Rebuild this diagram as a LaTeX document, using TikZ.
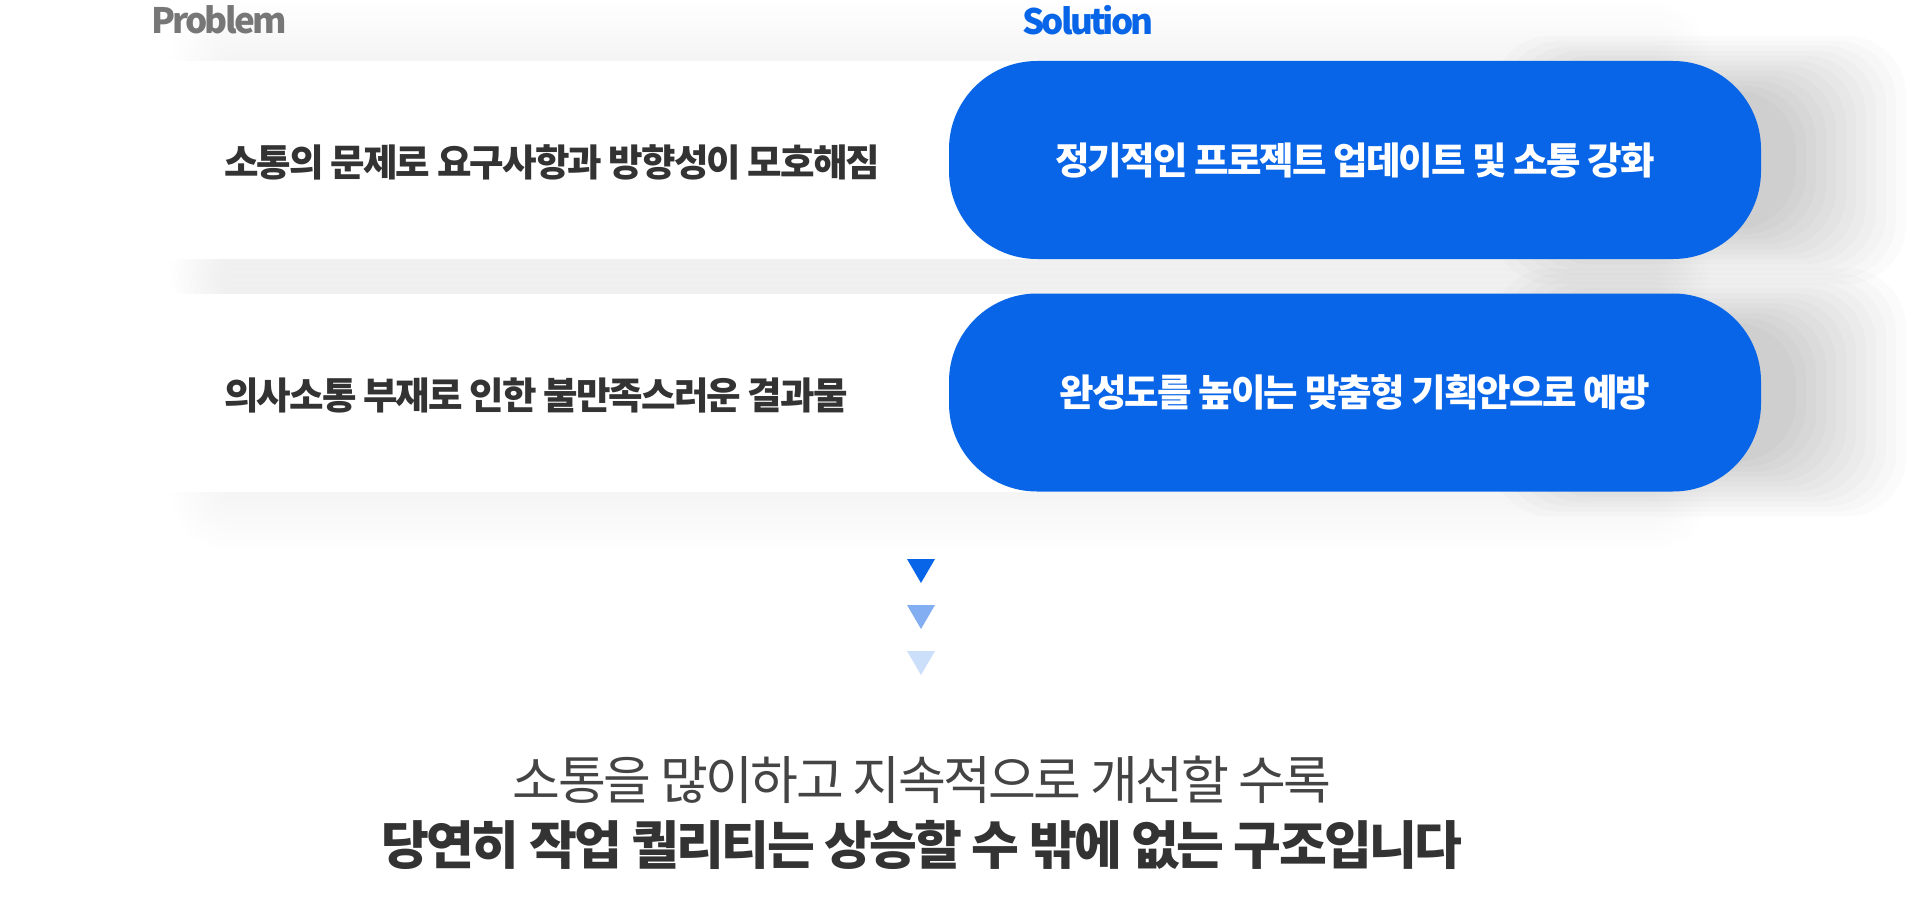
\documentclass[tikz,border=0pt]{standalone}
\usepackage{fontspec}
\setmainfont{Noto Sans CJK KR}[LetterSpace=-5]
\usetikzlibrary{backgrounds,calc,positioning}

\definecolor{solblue}{RGB}{8,101,232}
\definecolor{trimid}{RGB}{131,175,242}
\definecolor{trilight}{RGB}{204,223,250}
\definecolor{probgray}{RGB}{119,119,119}
\definecolor{darktext}{RGB}{51,51,51}
\definecolor{softtext}{RGB}{68,68,68}

\tikzset{
  band/.style={fill=white, minimum width=1350pt, minimum height=198pt, inner sep=0pt, anchor=west},
  pill/.style={fill=solblue, rounded corners=88pt, minimum width=812pt, minimum height=198pt,
    inner sep=0pt, text=white, font=\fontsize{37.5}{44}\selectfont\bfseries},
  probtext/.style={anchor=west, inner sep=0pt, text=darktext, font=\fontsize{37.5}{44}\selectfont\bfseries},
  head/.style={anchor=west, inner sep=0pt, font=\fontsize{35}{42}\selectfont\bfseries\addfontfeatures{LetterSpace=-8}},
}

\begin{document}
\begin{tikzpicture}[x=1pt,y=-1pt]
\useasboundingbox (0,0) rectangle (1920,899);

% headings
\node[head, text=probgray] (prob) at (151,20) {Problem};
\node[head, text=solblue] (sol) at (1022,20) {Solution};

% rows
\node[band] (band1) at (150,160) {};
\node[band] (band2) at (150,392.5) {};
\node[pill] (pill1) at (1355,160) {정기적인 프로젝트 업데이트 및 소통 강화};
\node[pill] (pill2) at (1355,392.5) {완성도를 높이는 맞춤형 기획안으로 예방};
\node[probtext] (issue1) at (224,162) {소통의 문제로 요구사항과 방향성이 모호해짐};
\node[probtext] (issue2) at (224,395) {의사소통 부재로 인한 불만족스러운 결과물};

% down marks
\foreach \y/\c in {559/solblue,605/trimid,651/trilight}
  \fill[\c] (907,\y) -- (935,\y) -- (921,\y+24) -- cycle;

% summary
\node[font=\fontsize{52}{60}\selectfont, text=softtext] (sum1) at (922,780) {소통을 많이하고 지속적으로 개선할 수록};
\node[font=\fontsize{52}{60}\selectfont\bfseries, text=darktext] (sum2) at (922,845) {당연히 작업 퀄리티는 상승할 수 밖에 없는 구조입니다};

\begin{scope}[on background layer]
\fill[white] (0,0) rectangle (1920,899);
% soft shadows
\foreach \k [evaluate=\k as \e using 6*\k] in {1,...,10}
  \foreach \b in {band1,band2}
    \fill[black, opacity=.005, rounded corners=\e pt]
      ($(\b.north west)+(80-\e,-\e)$) rectangle ($(\b.south east)+(150+\e,\e)$);
\foreach \k [evaluate=\k as \e using 10*\k, evaluate=\k as \f using 5*\k] in {1,...,12}
  \foreach \p in {pill1,pill2}
    \fill[black, opacity=.014, rounded corners=60pt]
      ($(\p.north east)+(-150-\e,35-\f)$) rectangle ($(\p.south east)+(25+\e,-35+\f)$);
\end{scope}

\end{tikzpicture}
\end{document}
